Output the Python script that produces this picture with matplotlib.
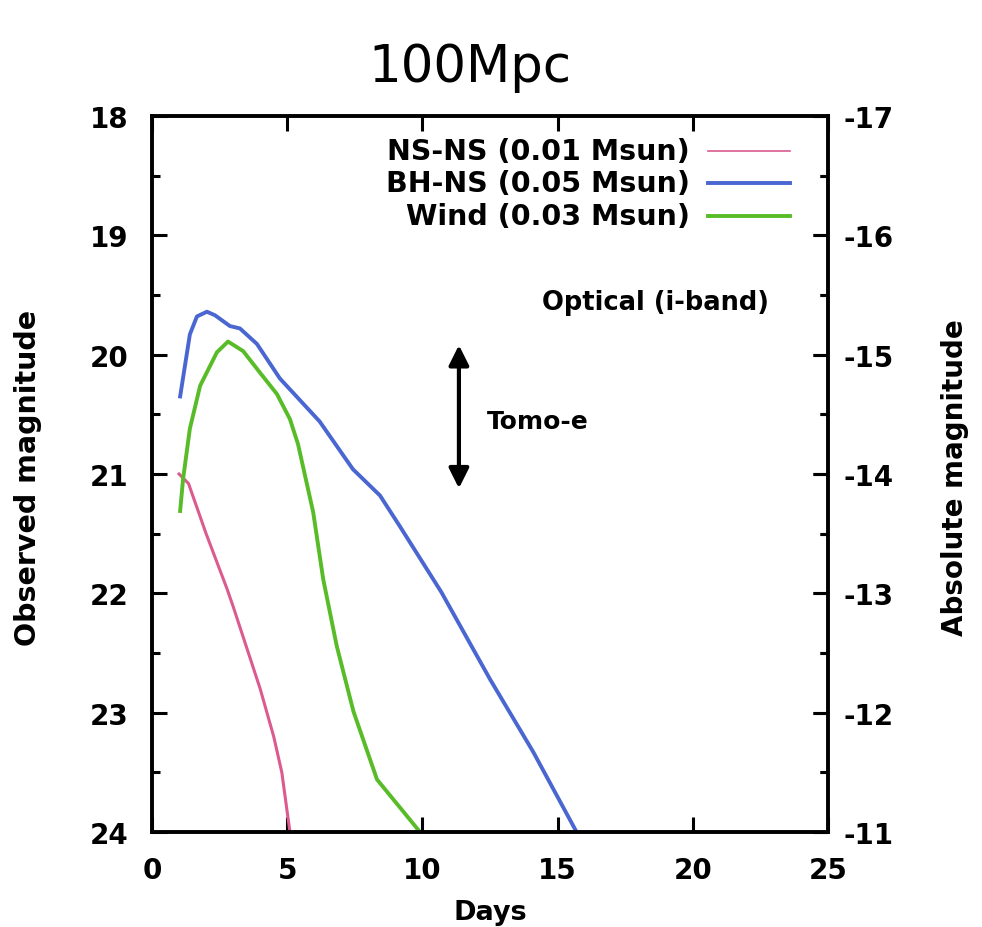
import matplotlib
matplotlib.use("Agg")
import matplotlib.pyplot as plt
from matplotlib.ticker import FixedLocator, MultipleLocator

plt.rcParams["font.family"] = ["DejaVu Sans"]
plt.rcParams["axes.unicode_minus"] = False

DIST_MOD = 35.0  # distance modulus for 100 Mpc

nsns_days = [1.0, 1.35, 2.0, 2.77, 3.0, 4.0, 4.5, 4.8, 5.1]
nsns_mag = [21.0, 21.08, 21.5, 21.96, 22.11, 22.8, 23.2, 23.5, 24.0]

bhns_days = [1.04, 1.4, 1.66, 2.03, 2.33, 2.88, 3.25, 3.88, 4.73, 6.2, 7.43, 8.43,
             9.17, 10.7, 12.5, 14.1, 15.7]
bhns_mag = [20.35, 19.83, 19.68, 19.64, 19.67, 19.76, 19.78, 19.91, 20.2, 20.56, 20.96, 21.18,
            21.44, 21.99, 22.72, 23.33, 24.0]

wind_days = [1.04, 1.15, 1.4, 1.78, 2.4, 2.81, 3.37, 3.99, 4.62, 5.1, 5.4, 5.96, 6.33,
             6.83, 7.45, 8.32, 9.91]
wind_mag = [21.31, 21.04, 20.62, 20.26, 19.98, 19.89, 19.97, 20.15, 20.33, 20.54, 20.75,
            21.32, 21.88, 22.44, 22.99, 23.56, 24.0]

labels = ["NS-NS (0.01 Msun)", "BH-NS (0.05 Msun)", "Wind (0.03 Msun)"]
colors = ["#dc5a90", "#4a66d0", "#58bc28"]

arrow_day = 11.35
arrow_top, arrow_bottom = 19.92, 21.12

fig = plt.figure(figsize=(9.82, 9.28), dpi=100)
ax = fig.add_axes([0.1548, 0.1024, 0.6884, 0.7715])

ax.plot(nsns_days, nsns_mag, color=colors[0], lw=2.2, solid_joinstyle="round")
ax.plot(bhns_days, bhns_mag, color=colors[1], lw=2.8, solid_joinstyle="round")
ax.plot(wind_days, wind_mag, color=colors[2], lw=2.8, solid_joinstyle="round")

ax.set_xlim(0, 25)
ax.set_ylim(24, 18)
ax.xaxis.set_major_locator(MultipleLocator(5))
ax.yaxis.set_major_locator(MultipleLocator(1))
ax.yaxis.set_minor_locator(MultipleLocator(0.5))
ax.tick_params(which="both", direction="in", top=True, right=True, width=2.2,
               labelsize=20, pad=17)
ax.tick_params(which="major", length=11)
ax.tick_params(which="minor", length=6)
for lab in ax.get_xticklabels() + ax.get_yticklabels():
    lab.set_fontweight("bold")
for sp in ax.spines.values():
    sp.set_linewidth(2.8)

sec = ax.secondary_yaxis("right", functions=(lambda m: m - DIST_MOD, lambda a: a + DIST_MOD))
sec.yaxis.set_major_locator(FixedLocator([-17, -16, -15, -14, -13, -12, -11]))
sec.yaxis.set_minor_locator(FixedLocator([-16.5, -15.5, -14.5, -13.5, -12.5, -11.5]))
sec.tick_params(which="both", direction="in", width=2.2, labelsize=20, pad=11)
sec.tick_params(which="major", length=11)
sec.tick_params(which="minor", length=6)
for lab in sec.get_yticklabels():
    lab.set_fontweight("bold")

# axis titles placed where the reference has them
ax.text(0.5, -0.0935, "Days", transform=ax.transAxes, ha="center", va="top",
        fontsize=19.5, fontweight="bold")
ax.text(-0.1834, 0.4965, "Observed magnitude", transform=ax.transAxes, rotation=90,
        ha="center", va="center", fontsize=20.5, fontweight="bold")
ax.text(1.188, 0.4965, "Absolute magnitude", transform=ax.transAxes, rotation=90,
        ha="center", va="center", fontsize=20, fontweight="bold")

fig.text(470 / 982, 1 - 68 / 928, "100Mpc", ha="center", va="center", fontsize=37)

# legend: text right aligned, line sample to the right
row_y = [0.951, 0.906, 0.860]
widths = [1.2, 2.8, 2.8]
for lab, col, y, w in zip(labels, colors, row_y, widths):
    ax.text(0.796, y, lab, transform=ax.transAxes, ha="right", va="center",
            fontsize=20.5, fontweight="bold")
    ax.plot([0.823, 0.944], [y, y], transform=ax.transAxes, color=col, lw=w)

ax.text(0.912, 0.74, "Optical (i-band)", transform=ax.transAxes, ha="right",
        va="center", fontsize=18.5, fontweight="bold")

ax.annotate("", xy=(arrow_day, arrow_top), xytext=(arrow_day, arrow_bottom),
            arrowprops=dict(arrowstyle="<|-|>", color="black", lw=3,
                            mutation_scale=30, shrinkA=0, shrinkB=0))
ax.text(arrow_day + 1.05, 20.56, "Tomo-e", ha="left", va="center",
        fontsize=18, fontweight="bold")

fig.savefig("out.png", dpi=100)
